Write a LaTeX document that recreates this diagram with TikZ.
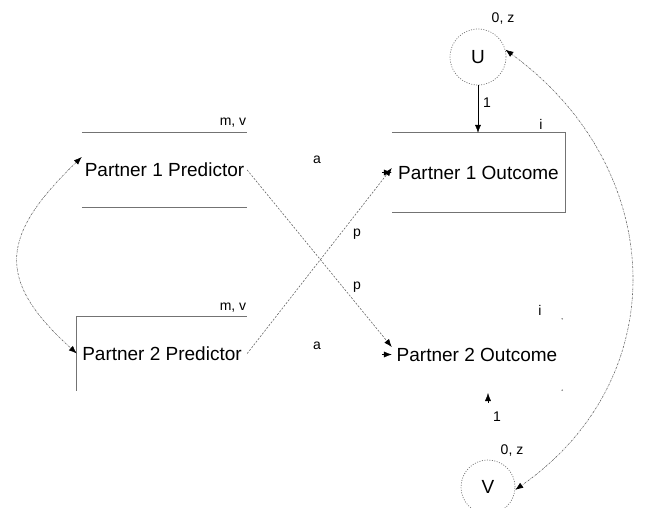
\documentclass[tikz,border=0pt]{standalone}
\usepackage{fontspec}
\setmainfont{Liberation Sans}
\usetikzlibrary{arrows.meta}

\begin{document}
\begin{tikzpicture}[x=1pt, y=-1pt,
  caja/.style={minimum width=170pt, minimum height=74pt, inner sep=0pt, font=\fontsize{19}{22}\selectfont},
  circulo/.style={circle, minimum size=56pt, inner sep=0pt, draw=black!55, line width=0.7pt, dash pattern=on 1pt off 1.5pt, font=\fontsize{19}{22}\selectfont},
  etiqueta/.style={inner sep=0pt, font=\fontsize{14}{16}\selectfont},
  borde/.style={draw=black!55, line width=1pt},
  flecha/.style={-{Latex[length=8pt, width=6pt, color=black]}},
  trazo/.style={flecha, draw=black!60, line width=0.6pt, dash pattern=on 2pt off 1.5pt},
  curva/.style={{Latex[length=8pt, width=6pt, color=black]}-{Latex[length=8pt, width=6pt, color=black]}, draw=black!60, line width=0.6pt, dash pattern=on 2pt off 1pt on 0.5pt off 1pt}]
% Marco del dibujo
\useasboundingbox (0,0) rectangle (656,507);

% Cajas de predictores y resultados
\node[caja, minimum width=165pt] (p1) at (164.5,170) {Partner 1 Predictor};
\node[caja] (p2) at (162,353.5) {Partner 2 Predictor};
\node[caja, minimum width=173pt, minimum height=79pt] (o1) at (478.5,172.5) {Partner 1 Outcome};
\node[caja, minimum height=71pt] (o2) at (477,354.5) {Partner 2 Outcome};

% Bordes visibles de las cajas
\draw[borde] (p1.north west) -- (p1.north east);
\draw[borde] (p1.south west) -- (p1.south east);
\draw[borde] (p2.south west) -- (p2.north west) -- (p2.north east);
\draw[borde] (o1.north west) -- (o1.north east) -- (o1.south east) -- (o1.south west);
\fill[black!55] (o2.north east) circle (0.8) (o2.south east) circle (0.8);

% Variables latentes
\node[circulo] (u) at (478,57) {U};
\node[circulo, minimum size=54pt] (v) at (488,487) {V};

% Etiquetas de medias, varianzas e interceptos
\node[etiqueta] (mv1) at (233,123) {m, v};
\node[etiqueta] (mv2) at (233,308) {m, v};
\node[etiqueta] (i1) at (541,124) {i};
\node[etiqueta] (i2) at (540,310) {i};
\node[etiqueta] (z1) at (503,19) {0, z};
\node[etiqueta] (z2) at (512,450) {0, z};

% Cargas de U y V
\draw[flecha] (u.south) -- (u.south |- o1.north) node[etiqueta, pos=0.375, right=5pt] {1};
\coordinate (vtip) at (488,393);
\draw[flecha] ([yshift=-10pt]vtip) -- (vtip);
\node[etiqueta] (uno2) at (497,417) {1};

% Efectos actor (solo puntas)
\draw[flecha] ([xshift=-10pt]o1.west) -- (o1.west);
\draw[flecha] ([xshift=-10pt]o2.west) -- (o2.west);
\node[etiqueta] (a1) at (317,160) {a};
\node[etiqueta] (a2) at (317,346) {a};

% Efectos pareja
\draw[trazo] (p1.east) -- (o2.175);
\draw[trazo] (p2.east) -- (o1.177);
\node[etiqueta] (pa1) at (357,234) {p};
\node[etiqueta] (pa2) at (357,287) {p};

% Covarianzas
\draw[curva] (p1.171) to[out=-136, in=138, looseness=1.45] (p2.west);
\draw[curva] (u.15) to[out=-36, in=35, looseness=1.15] (v.-6);

\end{tikzpicture}
\end{document}
